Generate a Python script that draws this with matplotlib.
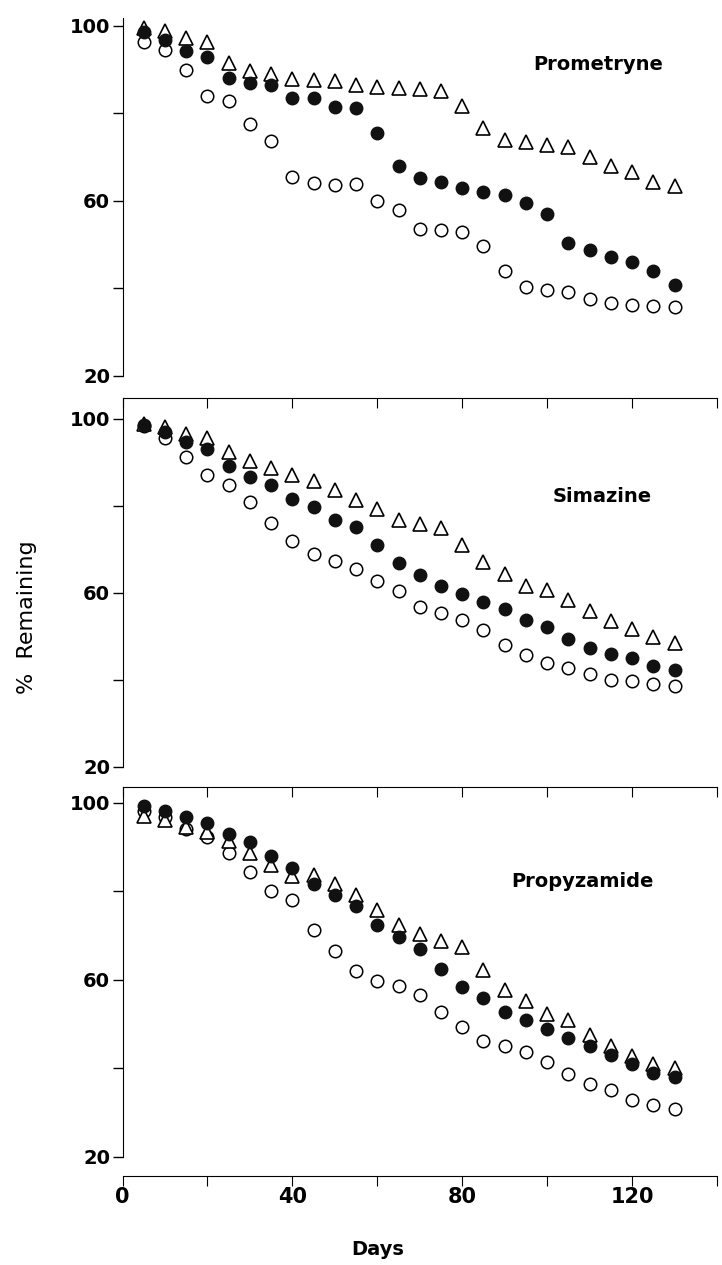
import matplotlib.pyplot as plt
import numpy as np

days = np.arange(5, 131, 5)

# Prometryne
prom_open = [96.3, 94.5, 90.0, 83.9, 82.8, 77.6, 73.8, 65.4, 64.2, 63.6, 63.9, 60.0, 57.9,
             53.7, 53.4, 52.9, 49.8, 44.1, 40.3, 39.6, 39.3, 37.6, 36.6, 36.3, 36.1, 35.7]
prom_filled = [98.5, 96.8, 94.3, 93.0, 88.1, 87.0, 86.4, 83.5, 83.5, 81.5, 81.2, 75.5, 68.0,
               65.2, 64.4, 62.9, 62.1, 61.3, 59.6, 57.1, 50.4, 48.7, 47.2, 46.0, 44.1, 40.9]
prom_tri = [99.5, 98.9, 97.3, 96.3, 91.6, 89.7, 88.9, 87.9, 87.7, 87.4, 86.4, 86.1, 85.8,
            85.6, 85.1, 81.6, 76.6, 74.0, 73.4, 72.8, 72.3, 70.0, 68.0, 66.5, 64.4, 63.4]

# Simazine
sim_open = [98.3, 95.5, 91.3, 87.0, 84.9, 80.8, 76.0, 72.0, 68.9, 67.4, 65.6, 62.8, 60.4,
            56.7, 55.3, 53.8, 51.5, 48.1, 45.7, 44.0, 42.8, 41.4, 39.9, 39.7, 39.1, 38.6]
sim_filled = [98.5, 96.9, 94.7, 93.0, 89.2, 86.7, 84.9, 81.6, 79.8, 76.7, 75.1, 71.0, 66.9,
              64.1, 61.7, 59.7, 57.9, 56.3, 53.8, 52.2, 49.4, 47.4, 46.0, 45.0, 43.2, 42.2]
sim_tri = [98.8, 98.1, 96.5, 95.5, 92.4, 90.3, 88.6, 87.0, 85.7, 83.6, 81.3, 79.3, 76.8,
           75.9, 74.9, 71.0, 67.2, 64.4, 61.7, 60.6, 58.4, 55.8, 53.5, 51.7, 49.9, 48.6]

# Propyzamide
pro_open = [98.1, 96.9, 94.0, 92.3, 88.6, 84.3, 80.2, 78.1, 71.4, 66.6, 62.0, 59.7, 58.7,
            56.6, 52.8, 49.3, 46.3, 45.1, 43.8, 41.5, 38.7, 36.4, 35.1, 32.8, 31.7, 30.9]
pro_filled = [99.4, 98.1, 96.9, 95.5, 92.9, 91.2, 87.9, 85.3, 81.7, 79.3, 76.6, 72.5, 69.7,
              67.1, 62.4, 58.4, 55.9, 52.8, 50.9, 48.9, 46.9, 45.1, 43.0, 40.9, 39.0, 38.0]
pro_tri = [97.1, 96.2, 94.5, 93.5, 91.4, 88.6, 86.0, 83.5, 83.7, 81.7, 79.1, 75.8, 72.5,
           70.4, 68.9, 67.4, 62.2, 57.8, 55.3, 52.4, 51.0, 47.6, 45.1, 42.8, 41.0, 40.0]

names = ['Prometryne', 'Simazine', 'Propyzamide']
x_ticks = [0, 20, 40, 60, 80, 100, 120, 140]
x_labels = ['0', '', '40', '', '80', '', '120', '']

plt.rcParams['font.family'] = ['DejaVu Sans']

fig = plt.figure(figsize=(7.22, 12.65), dpi=100)
left, width = 0.1697, 0.8234
ax_top = fig.add_axes([left, 0.70277, width, 0.28300])
ax_mid = fig.add_axes([left, 0.39368, width, 0.29170])
ax_bot = fig.add_axes([left, 0.070356, width, 0.30751])

panels = [
    (ax_top, prom_open, prom_filled, prom_tri, (20, 101.8), (0.800, 0.870)),
    (ax_mid, sim_open, sim_filled, sim_tri, (20, 104.8), (0.807, 0.732)),
    (ax_bot, pro_open, pro_filled, pro_tri, (15.7, 103.6), (0.773, 0.756)),
]

for i, (ax, op, fi, tr, ylim, lab) in enumerate(panels):
    # open circles, then triangles, filled circles on top
    ax.plot(days, op, 'o', ms=9, mfc='white', mec='black', mew=1.1, ls='none', zorder=3)
    ax.plot(days, tr, '^', ms=10, mfc='white', mec='black', mew=1.2, ls='none', zorder=4)
    ax.plot(days, fi, 'o', ms=9, mfc='#111111', mec='#111111', mew=1.0, ls='none', zorder=5)

    ax.set_xlim(0, 140)
    ax.set_ylim(*ylim)
    ax.set_yticks([20, 60, 100])
    ax.set_yticks([40, 80], minor=True)
    ax.tick_params(axis='y', which='both', direction='out', length=7, width=1,
                   pad=2, labelsize=14)
    for t in ax.get_yticklabels():
        t.set_fontweight('bold')
    ax.spines['right'].set_visible(False)
    ax.spines['left'].set_bounds(20, ylim[1])
    ax.text(lab[0], lab[1], names[i], transform=ax.transAxes, ha='center', va='center',
            fontsize=14, fontweight='bold')

    ax.set_xticks(x_ticks)
    if i == 0:
        ax.spines['top'].set_visible(False)
        ax.spines['bottom'].set_visible(False)
        ax.tick_params(axis='x', bottom=False, top=False, labelbottom=False)
    elif i == 1:
        ax.spines['bottom'].set_visible(False)
        ax.tick_params(axis='x', bottom=False, top=True, direction='in', length=7,
                       labelbottom=False)

# bottom panel: ticks point into the plot on top, down on the x axis
ax_bot.tick_params(axis='x', top=True, bottom=True, direction='in',
                   length=7, labelsize=15, pad=8)
ax_bot.set_xticklabels(x_labels, fontweight='bold')
for t in ax_bot.xaxis.get_major_ticks():
    t.tick1line.set_marker(3)
    t.tick1line.set_markersize(7)

fig.text(0.5235, 0.0119, 'Days', ha='center', va='center', fontsize=14, fontweight='bold')
fig.text(0.0374, 0.512, '%  Remaining', ha='center', va='center', rotation=90, fontsize=16)

fig.savefig('out.png', dpi=100)
